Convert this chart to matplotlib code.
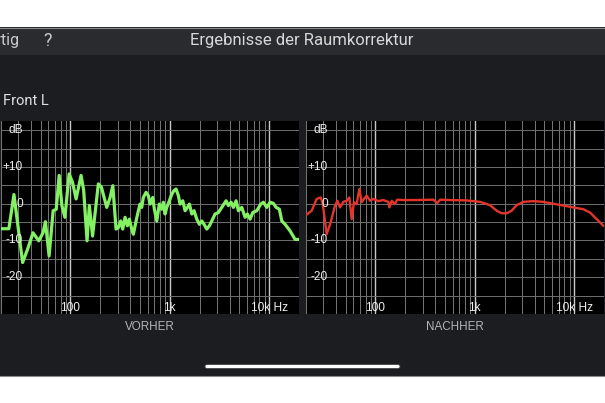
import matplotlib
matplotlib.use("Agg")
import matplotlib.pyplot as plt
from matplotlib.patches import Rectangle, FancyBboxPatch
from matplotlib.ticker import FixedLocator, NullFormatter

# --- data ---
green_freq = [20, 24, 27, 33, 37, 42, 48, 53, 56, 61,
              67, 72, 77, 82, 88, 97, 105, 114, 128, 136,
              147, 155, 167, 191, 205, 214, 232, 251, 267, 288,
              304, 321, 336, 355, 374, 392, 414, 430, 458, 483,
              502, 522, 542, 577, 609, 633, 674, 700, 740, 785,
              830, 862, 897, 933, 991, 1048, 1105, 1157, 1221, 1270,
              1352, 1426, 1504, 1576, 1666, 1757, 1870, 1986, 2100, 2215,
              2358, 2504, 2648, 2858, 3086, 3340, 3690, 3891, 4142, 4368,
              4651, 4907, 5309, 5731, 6046, 6436, 6849, 7516, 8248, 8761,
              9478, 10230, 11050, 11760, 12700, 13430, 14490, 16270, 18270, 20000]
green_db = [-6.8, -6.8, 2.5, -16, -12.4, -7.9, -10.1, -7.9, -4.9, -14.2,
            -1.9, -1.5, 7.7, -0.5, -3.7, 8.1, 5.8, 1.3, 7.7, 3.6,
            -10.1, -0.5, -8.8, 5.4, 4.5, 2.6, -1.0, 1.7, 4.9, -6.9,
            -6.5, -4.7, -6.9, -3.7, -6.0, -4.2, -6.9, -8.3, -4.7, -1.9,
            -0.1, -1.0, 1.7, 3.1, 2.2, -0.1, 1.7, -1.5, -4.7, -0.1,
            -1.5, 0.4, -2.8, -1.0, 0.8, 2.6, 3.6, 4.0, 2.2, -0.1,
            0.8, -1.9, -1.0, -0.1, -2.8, -1.9, -4.2, -5.6, -4.7, -5.6,
            -6.9, -6.0, -4.7, -2.8, -2.4, -1.0, 0.8, -0.5, 0.4, -1.0,
            0.8, -1.9, -1.0, -3.7, -2.8, -4.2, -2.4, -1.9, -0.1, 0.4,
            -1.0, 0.4, 0.1, -1.0, -1.5, -4.7, -5.6, -7.4, -9.7, -9.7]

red_freq = [20, 22.8, 25.6, 28.1, 29.4, 32.3, 35.4, 39.2, 41.4, 44,
            47.5, 51.3, 54.6, 57.7, 60.8, 64.7, 68.9, 72.7, 76.7, 81.6,
            88.2, 95.3, 107, 120, 135, 138, 146, 157, 166, 191,
            260, 383, 420, 447, 563, 828, 1130, 1424, 1660, 1866,
            2096, 2352, 2641, 3083, 3888, 4900, 6180, 7786, 9820, 12390,
            14460, 16880, 19700]
red_db = [-3.1, -1.9, 1.3, 1.7, 0.2, -8.3, -5.1, -0.5, 0.8, -1.0,
          0.5, 0.8, 1.7, -4.2, 0.4, -0.1, 4.0, 0.4, 1.3, 2.2,
          0.8, 1.3, 0.7, 1.0, 0.5, -1.0, 0.8, -0.1, 1.1, 1.0,
          1.0, 1.1, 0.2, 1.1, 1.0, 0.9, 0.5, -0.4, -1.9, -2.6,
          -2.6, -1.9, -0.4, 0.5, 0.7, 0.5, 0.0, -0.5, -1.0, -1.5,
          -2.4, -4.2, -6.0]

x_ticks = [100, 1000, 10000]
x_labels = ["100", "1k", "10k Hz"]
y_ticks = [20, 10, 0, -10, -20]
y_labels = ["dB", "+10", "0", "-10", "-20"]
minor_freqs = [20, 30, 40, 50, 60, 70, 80, 90, 200, 300, 400, 500, 600, 700, 800, 900,
               2000, 3000, 4000, 5000, 6000, 7000, 8000, 9000, 20000]

W, H = 605, 403
fig = plt.figure(figsize=(W / 100, H / 100), dpi=100)
fig.patch.set_facecolor("white")

def fy(y):
    return 1 - y / H

# phone screen background
fig.add_artist(Rectangle((0, fy(376)), 1, (376 - 27) / H, transform=fig.transFigure,
                         facecolor="#1c1d20", edgecolor="none", zorder=0))
fig.add_artist(Rectangle((0, fy(55)), 1, (55 - 27) / H, transform=fig.transFigure,
                         facecolor="#2a2b2f", edgecolor="none", zorder=0))
fig.add_artist(plt.Line2D([0, 1], [fy(27.5), fy(27.5)], color="#8a8a8a", lw=0.8))
fig.add_artist(plt.Line2D([0, 1], [fy(375.5), fy(375.5)], color="#8a8a8a", lw=0.8))

ui_font = ["Roboto", "DejaVu Sans"]
fig.text(302 / W, fy(41), "Ergebnisse der Raumkorrektur", color="#d8d8d8",
         fontsize=12, ha="center", va="center", family=ui_font)
fig.text(20 / W, fy(41), "Fertig", color="#c8c8c8", fontsize=11.5,
         ha="right", va="center", family=ui_font)
fig.text(48 / W, fy(41), "?", color="#c8c8c8", fontsize=13,
         ha="center", va="center", family=ui_font)
fig.text(3 / W, fy(101), "Front L", color="#e0e0e0", fontsize=10.5,
         ha="left", va="center", family=ui_font)

# home indicator
fig.add_artist(FancyBboxPatch((205 / W, fy(368.5)), 195 / W, 4 / H,
                              boxstyle="round,pad=0,rounding_size=0.004",
                              transform=fig.transFigure, facecolor="white",
                              edgecolor="#444444", lw=0.6, zorder=3))

def panel(left, freq, db, color, lw, title):
    ax = fig.add_axes([left / W, (H - 314) / H, 298 / W, 193 / H])
    ax.set_facecolor("black")
    ax.set_xscale("log")
    ax.set_xlim(20, 20000)
    ax.set_ylim(-30, 22.5)
    for s in ax.spines.values():
        s.set_visible(False)
    ax.xaxis.set_major_locator(FixedLocator(x_ticks))
    ax.xaxis.set_minor_locator(FixedLocator(minor_freqs))
    ax.xaxis.set_major_formatter(NullFormatter())
    ax.xaxis.set_minor_formatter(NullFormatter())
    ax.yaxis.set_major_locator(FixedLocator(list(range(-25, 21, 5))))
    ax.yaxis.set_major_formatter(NullFormatter())
    ax.tick_params(which="both", length=0)
    ax.grid(True, which="minor", axis="x", color="#777777", lw=0.7)
    ax.grid(True, which="major", axis="x", color="#c8c8c8", lw=1.0)
    ax.grid(True, which="major", axis="y", color="#707070", lw=0.7)
    ax.set_axisbelow(True)

    ax.plot(freq, db, color=color, lw=lw, solid_joinstyle="round", zorder=3)

    for yv, lab in zip(y_ticks, y_labels):
        ax.annotate(lab, xy=(0, yv), xycoords=("axes fraction", "data"),
                    xytext=(22, 0), textcoords="offset pixels",
                    ha="right", va="center", color="#f0f0f0", fontsize=8.6,
                    family="Liberation Sans", zorder=4)
    for xv, lab in zip(x_ticks, x_labels):
        ax.annotate(lab, xy=(xv, 0), xycoords=("data", "axes fraction"),
                    xytext=(0, 6), textcoords="offset pixels",
                    ha="center", va="center", color="#f0f0f0", fontsize=8.6,
                    family="Liberation Sans", zorder=4)
    fig.text((left + 149) / W, fy(327), title, color="#b4b4b4", fontsize=8.4,
             ha="center", va="center", family="Liberation Sans")
    return ax

panel(1, green_freq, green_db, "#84f064", 2.3, "VORHER")
panel(306, red_freq, red_db, "#e3352b", 1.7, "NACHHER")

fig.savefig("out.png", dpi=100, facecolor=fig.get_facecolor())
